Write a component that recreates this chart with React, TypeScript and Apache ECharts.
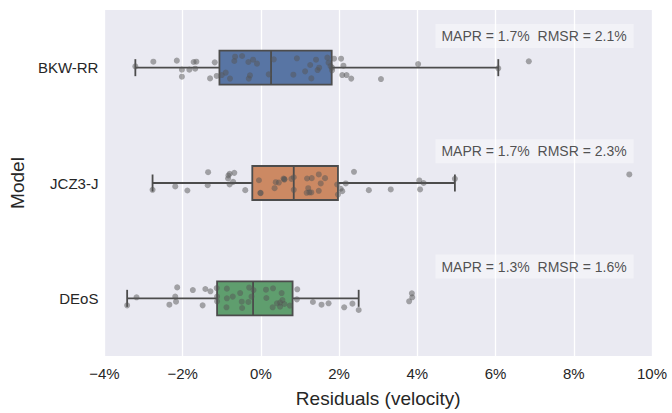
import React, { useEffect, useRef } from "react";
import * as echarts from "echarts";

const MODELS = ["BKW-RR", "JCZ3-J", "DEoS"];
const X_TICKS = [-4, -2, 0, 2, 4, 6, 8, 10];

// box stats: [lower whisker, q1, median, q3, upper whisker] (%)
const BOX_BKW = [-3.21, -1.06, 0.26, 1.81, 6.07];
const BOX_JCZ = [-2.77, -0.22, 0.84, 1.97, 4.96];
const BOX_DEOS = [-3.42, -1.12, -0.2, 0.81, 2.5];

const MAPR = [1.7, 1.7, 1.3];
const RMSR = [2.1, 2.3, 1.6];

// residual points [value %, jitter]
const PTS_BKW = [
  [-3.21, -0.011], [-2.75, -0.052], [-2.15, -0.061], [-2.02, 0.017], [-2.02, 0.078], [-1.83, 0.017],
  [-1.72, -0.049], [-1.65, -0.052], [-1.68, 0.009], [-1.3, 0.093], [-1.18, -0.046], [-1.13, 0.072],
  [-1.0, 0.064], [-0.9, 0.043], [-0.79, 0.095], [-0.68, -0.058], [-0.66, -0.095], [-0.48, -0.101],
  [-0.32, -0.049], [-0.31, 0.095], [-0.28, 0.067], [-0.2, -0.069], [-0.1, -0.035], [0.2, 0.058],
  [0.33, -0.072], [0.83, 0.061], [0.92, -0.081], [1.13, 0.032], [1.26, -0.023], [1.29, 0.093],
  [1.41, -0.069], [1.45, 0.021], [1.49, 0.0], [1.7, -0.087], [1.73, -0.043], [1.78, -0.014],
  [1.82, 0.023], [1.82, 0.0], [1.87, -0.078], [2.05, -0.078], [2.11, -0.017], [2.08, 0.064],
  [2.19, 0.064], [2.31, 0.095], [3.07, 0.099], [4.02, -0.031], [6.07, 0.006], [6.85, -0.055],
];
const PTS_JCZ = [
  [-2.77, 0.059], [-2.19, 0.03], [-1.88, 0.065], [-1.35, -0.094], [-1.36, 0.019], [-0.83, -0.065],
  [-0.8, -0.08], [-0.68, -0.088], [-0.84, -0.039], [-0.71, -0.01], [-0.8, 0.013], [-0.4, 0.062],
  [-0.05, -0.024], [-0.01, 0.088], [-0.01, 0.085], [0.35, 0.045], [0.38, -0.007], [0.46, -0.004],
  [0.58, -0.039], [0.6, -0.03], [0.6, -0.033], [0.78, -0.036], [0.84, -0.05], [0.84, 0.059],
  [1.18, -0.039], [1.3, -0.042], [1.21, 0.045], [1.24, 0.082], [1.17, 0.085], [1.29, 0.082],
  [1.48, -0.074], [1.64, -0.042], [1.53, 0.004], [1.48, 0.068], [1.95, 0.013], [1.97, 0.1],
  [2.04, 0.05], [2.08, 0.071], [2.17, 0.004], [2.38, -0.097], [2.76, 0.062], [3.32, 0.056],
  [4.05, -0.022], [4.16, 0.0], [4.07, 0.056], [4.96, -0.036], [9.42, -0.074],
];
const PTS_DEOS = [
  [-3.42, 0.061], [-3.18, -0.009], [-2.14, -0.095], [-2.19, -0.015], [-2.17, 0.029], [-2.34, 0.055],
  [-1.74, -0.072], [-1.49, 0.061], [-1.42, -0.081], [-1.29, -0.061], [-1.13, -0.089], [-1.12, -0.015],
  [-1.12, 0.026], [-0.87, -0.084], [-0.87, 0.0], [-0.88, 0.078], [-0.72, -0.015], [-0.53, -0.046],
  [-0.49, 0.029], [-0.48, 0.084], [-0.32, 0.032], [-0.3, -0.093], [-0.24, -0.015], [-0.19, -0.072],
  [0.13, -0.075], [0.14, -0.003], [0.31, -0.087], [0.53, -0.046], [0.55, 0.015], [0.49, 0.037],
  [0.41, 0.043], [0.3, 0.078], [0.49, 0.072], [0.6, 0.049], [0.74, 0.063], [0.93, -0.078],
  [0.92, 0.009], [1.33, 0.032], [1.55, 0.055], [1.73, 0.043], [2.13, 0.078], [2.34, 0.046],
  [2.5, 0.101], [3.79, 0.026], [3.86, -0.043], [3.87, -0.009],
];

const BOXES = [BOX_BKW, BOX_JCZ, BOX_DEOS];
const POINTS = [PTS_BKW, PTS_JCZ, PTS_DEOS];
const BOX_COLORS = ["#5875A4", "#CC8963", "#5F9E6E"];
const EDGE = "#4C4C4C";
const FONT = "Liberation Sans, Arial, sans-serif";
const TEXT = "#262626";
const ANNOT_X = 4.45;
const ANNOT_DY = -0.275;

export default function App() {
  const ref = useRef<HTMLDivElement>(null);
  useEffect(() => {
    if (!ref.current) return;
    const chart = echarts.init(ref.current, null, { renderer: "svg" });
    const boxData = BOXES.map((b, i) => [i, ...b]);
    const scatterData: number[][] = [];
    POINTS.forEach((pts, i) => pts.forEach(([v, j]) => scatterData.push([v, i + j])));
    const annotData = MODELS.map((m, i) => ({
      value: [ANNOT_X, i + ANNOT_DY],
      name: `MAPR = ${MAPR[i].toFixed(1)}%  RMSR = ${RMSR[i].toFixed(1)}%`,
    }));
    chart.setOption({
      animation: false,
      textStyle: { fontFamily: FONT },
      grid: {
        left: 104, top: 10, right: 20, bottom: 54,
        show: true, backgroundColor: "#EAEAF2", borderWidth: 0,
      },
      xAxis: {
        type: "value", min: -4, max: 10, interval: 2,
        name: "Residuals (velocity)", nameLocation: "middle", nameGap: 33,
        nameTextStyle: { fontSize: 19, color: TEXT, fontFamily: FONT },
        axisLine: { show: false }, axisTick: { show: false },
        axisLabel: {
          fontSize: 15, color: TEXT, margin: 10, fontFamily: FONT,
          formatter: (v: number) => (v < 0 ? "\u2212" : "") + Math.abs(v) + "%",
        },
        splitLine: { show: true, lineStyle: { color: "#FFFFFF", width: 1.3 } },
      },
      yAxis: [
        {
          type: "category", data: MODELS, inverse: true,
          name: "Model", nameLocation: "middle", nameGap: 76, nameRotate: 90,
          nameTextStyle: { fontSize: 19, color: TEXT, fontFamily: FONT },
          axisLine: { show: false }, axisTick: { show: false },
          axisLabel: { fontSize: 15, color: TEXT, margin: 6, fontFamily: FONT },
          splitLine: { show: false },
        },
        { type: "value", min: -0.5, max: 2.5, inverse: true, show: false, splitLine: { show: false } },
      ],
      series: [
        {
          type: "custom",
          yAxisIndex: 0,
          data: boxData,
          encode: { x: [1, 2, 3, 4, 5], y: 0 },
          z: 2,
          renderItem: (params: any, api: any) => {
            const idx = api.value(0);
            const lo = api.coord([api.value(1), idx]);
            const q1 = api.coord([api.value(2), idx]);
            const md = api.coord([api.value(3), idx]);
            const q3 = api.coord([api.value(4), idx]);
            const hi = api.coord([api.value(5), idx]);
            const band = api.size([0, 1])[1];
            const h = band * 0.295;
            const cy = lo[1];
            const ls = { stroke: EDGE, lineWidth: 1.8, fill: null };
            return {
              type: "group",
              children: [
                { type: "line", shape: { x1: lo[0], y1: cy, x2: q1[0], y2: cy }, style: ls },
                { type: "line", shape: { x1: q3[0], y1: cy, x2: hi[0], y2: cy }, style: ls },
                { type: "line", shape: { x1: lo[0], y1: cy - h / 4, x2: lo[0], y2: cy + h / 4 }, style: ls },
                { type: "line", shape: { x1: hi[0], y1: cy - h / 4, x2: hi[0], y2: cy + h / 4 }, style: ls },
                {
                  type: "rect",
                  shape: { x: q1[0], y: cy - h / 2, width: q3[0] - q1[0], height: h },
                  style: { fill: BOX_COLORS[idx], stroke: EDGE, lineWidth: 1.8 },
                },
                { type: "line", shape: { x1: md[0], y1: cy - h / 2, x2: md[0], y2: cy + h / 2 }, style: ls },
              ],
            };
          },
        },
        {
          type: "scatter",
          yAxisIndex: 1,
          data: scatterData,
          symbolSize: 6,
          z: 3,
          itemStyle: { color: "#555555", opacity: 0.5 },
        },
        {
          type: "scatter",
          yAxisIndex: 1,
          data: annotData,
          symbolSize: 1,
          z: 4,
          itemStyle: { color: "rgba(0,0,0,0)" },
          label: {
            show: true, position: "right", distance: 0, formatter: "{b}",
            fontSize: 14, color: TEXT, fontFamily: FONT,
            backgroundColor: "rgba(255,255,255,0.5)", padding: [5, 7, 5, 6],
          },
        },
      ],
    });
    return () => chart.dispose();
  }, []);
  return (
    <div
      ref={ref}
      style={{ position: "fixed", left: 0, top: 0, width: 672, height: 413, background: "#fff" }}
    />
  );
}
